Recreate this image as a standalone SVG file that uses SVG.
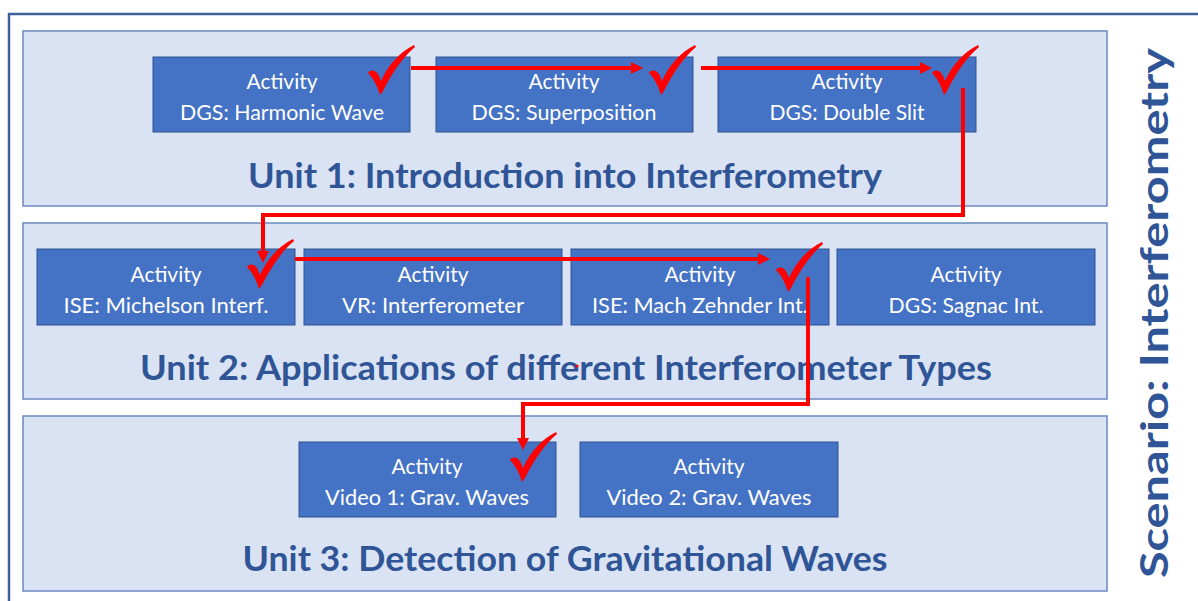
<svg xmlns="http://www.w3.org/2000/svg" width="1198" height="601" viewBox="0 0 1198 601">
<defs>
<style>
.unit{fill:#dae3f3;stroke:#6a89c0;stroke-width:1.5}
.box{fill:#4472c4;stroke:#2f528f;stroke-width:1}
.bt{font-family:Lato,"Open Sans","Liberation Sans",sans-serif;font-size:22px;fill:#ffffff;text-anchor:middle}
.title{font-family:Lato,"Open Sans","Liberation Sans",sans-serif;font-weight:bold;font-size:34px;fill:#2f5597;text-anchor:middle}
.con{fill:none;stroke:#ff0000;stroke-width:4}
.chk{fill:#ff0000}
</style>
<marker id="ah" viewBox="0 0 12 12" refX="6" refY="6" markerWidth="12" markerHeight="12" markerUnits="userSpaceOnUse" orient="auto">
<path d="M0,0 L12,6 L0,12 Z" fill="#ff0000"/>
</marker>
<path id="check" d="M0,28 C3,24 8,25 11,31 L13,36 C20,20 32,7 46,0 L47,2 C35,12 24,28 15,46 L12,50 C9,40 5,33 0,28 Z"/>
</defs>
<rect x="0" y="0" width="1198" height="601" fill="#ffffff"/>
<rect id="frame" x="9" y="14" width="1210" height="610" fill="none" stroke="#41619c" stroke-width="2.5"/>

<g id="unit1">
<rect class="unit" x="23" y="31" width="1084" height="175"/>
<text class="title" x="565" y="188" textLength="634" lengthAdjust="spacingAndGlyphs">Unit 1: Introduction into Interferometry</text>
</g>
<g id="unit2">
<rect class="unit" x="23" y="223" width="1084" height="176"/>
<text class="title" x="566" y="380" textLength="852" lengthAdjust="spacingAndGlyphs">Unit 2: Applications of different Interferometer Types</text>
</g>
<g id="unit3">
<rect class="unit" x="23" y="416" width="1084" height="175"/>
<text class="title" x="565" y="571" textLength="645" lengthAdjust="spacingAndGlyphs">Unit 3: Detection of Gravitational Waves</text>
</g>

<g id="a1">
<rect class="box" x="153" y="57" width="257" height="75"/>
<text class="bt" x="282" y="89" textLength="71" lengthAdjust="spacingAndGlyphs">Activity</text>
<text class="bt" x="282" y="120" textLength="204" lengthAdjust="spacingAndGlyphs">DGS: Harmonic Wave</text>
</g>
<g id="a2">
<rect class="box" x="436" y="57" width="257" height="75"/>
<text class="bt" x="564" y="89" textLength="71" lengthAdjust="spacingAndGlyphs">Activity</text>
<text class="bt" x="564" y="120" textLength="185" lengthAdjust="spacingAndGlyphs">DGS: Superposition</text>
</g>
<g id="a3">
<rect class="box" x="718" y="57" width="258" height="75"/>
<text class="bt" x="847" y="89" textLength="71" lengthAdjust="spacingAndGlyphs">Activity</text>
<text class="bt" x="847" y="120" textLength="155" lengthAdjust="spacingAndGlyphs">DGS: Double Slit</text>
</g>

<g id="b1">
<rect class="box" x="37" y="249" width="258" height="76"/>
<text class="bt" x="166" y="282" textLength="71" lengthAdjust="spacingAndGlyphs">Activity</text>
<text class="bt" x="166" y="313" textLength="205" lengthAdjust="spacingAndGlyphs">ISE: Michelson Interf.</text>
</g>
<g id="b2">
<rect class="box" x="304" y="249" width="258" height="76"/>
<text class="bt" x="433" y="282" textLength="71" lengthAdjust="spacingAndGlyphs">Activity</text>
<text class="bt" x="433" y="313" textLength="182" lengthAdjust="spacingAndGlyphs">VR: Interferometer</text>
</g>
<g id="b3">
<rect class="box" x="571" y="249" width="258" height="76"/>
<text class="bt" x="700" y="282" textLength="71" lengthAdjust="spacingAndGlyphs">Activity</text>
<text class="bt" x="700" y="313" textLength="216" lengthAdjust="spacingAndGlyphs">ISE: Mach Zehnder Int.</text>
</g>
<g id="b4">
<rect class="box" x="837" y="249" width="258" height="76"/>
<text class="bt" x="966" y="282" textLength="71" lengthAdjust="spacingAndGlyphs">Activity</text>
<text class="bt" x="966" y="313" textLength="155" lengthAdjust="spacingAndGlyphs">DGS: Sagnac Int.</text>
</g>

<g id="c1">
<rect class="box" x="299" y="442" width="257" height="75"/>
<text class="bt" x="427" y="474" textLength="71" lengthAdjust="spacingAndGlyphs">Activity</text>
<text class="bt" x="427" y="505" textLength="204" lengthAdjust="spacingAndGlyphs">Video 1: Grav. Waves</text>
</g>
<g id="c2">
<rect class="box" x="580" y="442" width="258" height="75"/>
<text class="bt" x="709" y="474" textLength="71" lengthAdjust="spacingAndGlyphs">Activity</text>
<text class="bt" x="709" y="505" textLength="205" lengthAdjust="spacingAndGlyphs">Video 2: Grav. Waves</text>
</g>

<g id="connectors">
<path class="con" d="M411,68 H637" marker-end="url(#ah)"/>
<path class="con" d="M701,68 H926" marker-end="url(#ah)"/>
<path class="con" d="M963,88 V215 H263 V257" marker-end="url(#ah)"/>
<path class="con" d="M295,259 H764" marker-end="url(#ah)"/>
<path class="con" d="M808,277 V404 H523 V444" marker-end="url(#ah)"/>
<circle cx="577" cy="366" r="1.6" fill="#ff0000"/>
</g>

<g id="checks" class="chk">
<use href="#check" x="368" y="45"/>
<use href="#check" x="649" y="45"/>
<use href="#check" x="932" y="45"/>
<use href="#check" x="247" y="239"/>
<use href="#check" x="776" y="242"/>
<use href="#check" x="510" y="432"/>
</g>

<g id="scenario">
<text transform="translate(1168,313) rotate(-90)" x="0" y="0" style="font-family:Lato,'Open Sans','Liberation Sans',sans-serif;font-weight:bold;font-size:38px;fill:#2f5597;text-anchor:middle" textLength="530" lengthAdjust="spacingAndGlyphs">Scenario: Interferometry</text>
</g>
</svg>
